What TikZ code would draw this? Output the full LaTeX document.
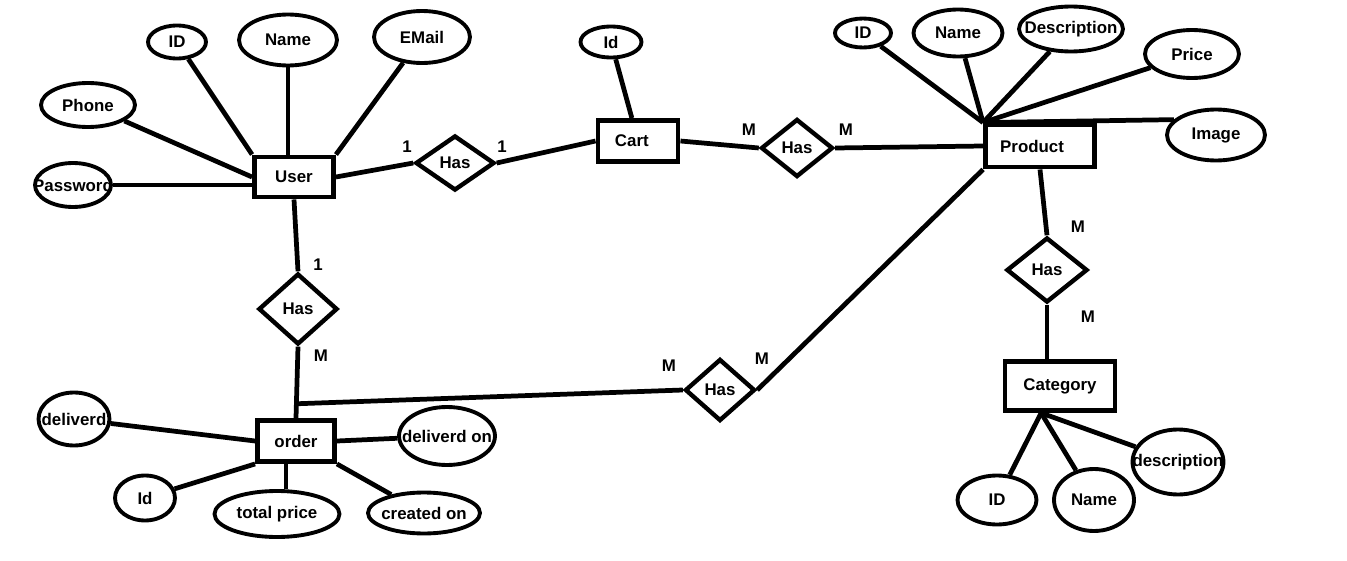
\documentclass[tikz,border=0pt]{standalone}
\usepackage{fontspec}
\setmainfont{Liberation Sans}
\usetikzlibrary{shapes.geometric,calc}

\begin{document}
\begin{tikzpicture}[x=0.02cm, y=-0.02cm,
                every node/.style={font=\bfseries\fontsize{9.6}{11}\selectfont, inner sep=0pt},
                entity/.style={rectangle, draw, line width=2.8pt},
                attr/.style={ellipse, draw, line width=2.2pt, inner xsep=-12pt},
                rel/.style={diamond, draw, line width=2.5pt},
                every edge/.style={draw, line width=2.7pt}]

                \path[use as bounding box, fill=white] (0,0) rectangle (1347,561);

                % entities
                \node[entity, minimum width=1.58cm, minimum height=0.8cm] (user) at (294,177) {User};
                \node[entity, minimum width=1.6cm, minimum height=0.82cm] (cart) at (638,141) {\hspace*{-7pt}Cart};
                \node[entity, minimum width=2.18cm, minimum height=0.84cm] (product) at (1040,146) {Product\hspace*{9pt}};
                \node[entity, minimum width=2.2cm, minimum height=0.98cm] (category) at (1060,386) {Category};
                \node[entity, minimum width=1.54cm, minimum height=0.82cm] (order) at (296,441) {order};

                % relationships
                \node[rel, minimum width=1.58cm, minimum height=1.1cm] (hasUC) at (455,163) {Has};
                \node[rel, minimum width=1.44cm, minimum height=1.16cm] (hasCP) at (797,148) {Has};
                \node[rel, minimum width=1.62cm, minimum height=1.3cm] (hasPC) at (1047,270) {Has};
                \node[rel, minimum width=1.4cm, minimum height=1.24cm] (hasOP) at (720,390) {Has};
                \node[rel, minimum width=1.58cm, minimum height=1.42cm] (hasUO) at (298,309) {Has};

                % attributes
                \node[attr, minimum width=1.16cm, minimum height=0.66cm] (uid) at (177,42) {ID};
                \node[attr, minimum width=1.96cm, minimum height=1.02cm] (uname) at (288,40) {Name};
                \node[attr, minimum width=1.92cm, minimum height=1.04cm] (uemail) at (422,37) {EMail};
                \node[attr, minimum width=1.88cm, minimum height=0.88cm] (uphone) at (88,105) {Phone};
                \node[attr, minimum width=1.52cm, minimum height=0.88cm] (upass) at (73,185) {Password};
                \node[attr, minimum width=1.22cm, minimum height=0.62cm] (cartid) at (611,42) {Id};
                \node[attr, minimum width=1.12cm, minimum height=0.58cm] (pid) at (863,33) {ID};
                \node[attr, minimum width=1.78cm, minimum height=0.94cm] (pname) at (958,33) {Name};
                \node[attr, minimum width=2.08cm, minimum height=0.9cm] (pdesc) at (1071,29) {Description};
                \node[attr, minimum width=1.88cm, minimum height=0.96cm] (pprice) at (1192,54) {Price};
                \node[attr, minimum width=1.96cm, minimum height=1.02cm] (pimage) at (1216,135) {Image};
                \node[attr, minimum width=1.58cm, minimum height=0.98cm] (cid) at (997,500) {ID};
                \node[attr, minimum width=1.6cm, minimum height=1.24cm] (cname) at (1094,500) {Name};
                \node[attr, minimum width=1.82cm, minimum height=1.3cm] (cdesc) at (1178,462) {description};
                \node[attr, minimum width=1.42cm, minimum height=1.06cm] (odeliv) at (74,419) {deliverd};
                \node[attr, minimum width=1.92cm, minimum height=1.16cm] (odelon) at (447,436) {deliverd on};
                \node[attr, minimum width=1.2cm, minimum height=0.9cm] (oid) at (145,498) {Id};
                \node[attr, minimum width=2.5cm, minimum height=0.92cm] (ototal) at (277,514) {total price};
                \node[attr, minimum width=2.24cm, minimum height=0.82cm] (ocreated) at (424,513) {created on};

                % cardinalities
                \node (uc1) at (407,147) {1};
                \node (uc2) at (502,147) {1};
                \node (cp1) at (749,130) {M};
                \node (cp2) at (846,130) {M};
                \node (pc1) at (1078,227) {M};
                \node (pc2) at (1088,317) {M};
                \node (op1) at (669,366) {M};
                \node (op2) at (762,359) {M};
                \node (uo1) at (318,265) {1};
                \node (uo2) at (321,356) {M};

                \coordinate (cbot) at (category.235);
                \coordinate (junc) at ($(hasUO.south)!0.8!(order.north)$);
                \coordinate (otop) at ($(ototal.north)+(9,0)$);

                \path (uid) edge (user.north west);
                \path (uname.south) edge (uname.south |- user.north);
                \path (uemail) edge (user.north east);
                \path (uphone) edge (user.west);
                \path (upass.east) edge (upass.east -| user.west);
                \path (user.east) edge (hasUC.west);
                \path (hasUC.east) edge (cart.west);
                \path (cartid) edge (cart.105);
                \path (cart.east) edge (hasCP.west);
                \path (hasCP.east) edge (product.west);
                \path (pid) edge (product.north west);
                \path (pname) edge (product.north west);
                \path (pdesc) edge (product.north west);
                \path (pprice) edge (product.north west);
                \path (product.north west) edge (pimage.160);
                \path (product.south) edge (hasPC.north);
                \path (hasPC.south) edge (hasPC.south |- category.north);
                \path (cbot) edge (cid);
                \path (cbot) edge (cname);
                \path (cbot) edge (cdesc);
                \path (product.south west) edge (hasOP.east);
                \path (user.south) edge (hasUO.north);
                \path (hasUO.south) edge (order.north);
                \path (hasOP.west) edge (junc);
                \path (odeliv) edge (order.west);
                \path (order.east) edge (odelon);
                \path (oid) edge (order.south west);
                \path (otop) edge (otop |- order.south);
                \path (ocreated) edge (order.south east);
            \end{tikzpicture}
\end{document}
